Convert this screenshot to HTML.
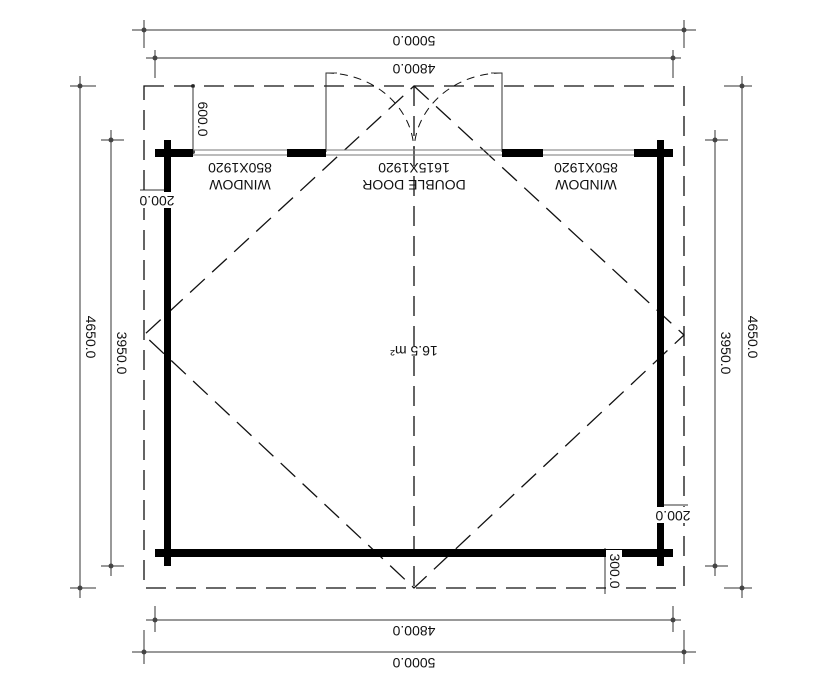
<!DOCTYPE html>
<html><head><style>html,body{margin:0;padding:0;background:#fff}svg{display:block}text{font-family:"Liberation Sans",sans-serif;font-size:14px;fill:#111}</style></head>
<body>
<svg width="831" height="685" viewBox="0 0 831 685" xmlns="http://www.w3.org/2000/svg">
<g stroke="#333" stroke-width="1" fill="none">
<line x1="132" y1="30" x2="696" y2="30"/><line x1="144" y1="20" x2="144" y2="48"/><line x1="684" y1="20" x2="684" y2="48"/>
<line x1="146" y1="58" x2="681" y2="58"/><line x1="155" y1="50" x2="155" y2="78"/><line x1="673" y1="50" x2="673" y2="78"/>
<line x1="146" y1="620" x2="681" y2="620"/><line x1="155" y1="606" x2="155" y2="632"/><line x1="673" y1="606" x2="673" y2="632"/>
<line x1="132" y1="652" x2="696" y2="652"/><line x1="144" y1="630" x2="144" y2="664"/><line x1="684" y1="630" x2="684" y2="664"/>
<line x1="80" y1="76" x2="80" y2="598"/><line x1="70" y1="86" x2="96" y2="86"/><line x1="70" y1="588" x2="96" y2="588"/>
<line x1="111" y1="130" x2="111" y2="576"/><line x1="101" y1="140" x2="124" y2="140"/><line x1="101" y1="566" x2="124" y2="566"/>
<line x1="715" y1="130" x2="715" y2="576"/><line x1="705" y1="140" x2="728" y2="140"/><line x1="705" y1="566" x2="728" y2="566"/>
<line x1="742" y1="76" x2="742" y2="598"/><line x1="724" y1="86" x2="752" y2="86"/><line x1="724" y1="588" x2="752" y2="588"/>
<line x1="193" y1="86" x2="193" y2="152"/>
<line x1="140" y1="190" x2="167" y2="190"/>
<line x1="660" y1="505" x2="688" y2="505"/>
<line x1="605" y1="548" x2="605" y2="594"/>
</g>
<g fill="#444">
<circle cx="144" cy="30" r="2.5"/><circle cx="684" cy="30" r="2.5"/><circle cx="155" cy="58" r="2.5"/><circle cx="673" cy="58" r="2.5"/>
<circle cx="155" cy="620" r="2.5"/><circle cx="673" cy="620" r="2.5"/><circle cx="144" cy="652" r="2.5"/><circle cx="684" cy="652" r="2.5"/>
<circle cx="80" cy="86" r="2.5"/><circle cx="80" cy="588" r="2.5"/><circle cx="111" cy="140" r="2.5"/><circle cx="111" cy="566" r="2.5"/>
<circle cx="715" cy="140" r="2.5"/><circle cx="715" cy="566" r="2.5"/><circle cx="742" cy="86" r="2.5"/><circle cx="742" cy="588" r="2.5"/>
<circle cx="193" cy="86" r="2"/><circle cx="193" cy="152" r="2"/>
</g>
<g stroke="#111" stroke-width="1.3" fill="none" stroke-dasharray="20,10">
<rect x="144" y="86" width="540" height="502"/>
<path d="M414 86 L684 335 L414 588 L144 335 Z"/>
<line x1="414" y1="86" x2="414" y2="588"/>
</g>
<g stroke="#111" stroke-width="1" fill="none" stroke-dasharray="8,6">
<path d="M326 73 A88 79 0 0 1 414 152"/>
<path d="M502 73 A88 79 0 0 0 414 152"/>
</g>
<g stroke="#333" stroke-width="1" fill="none"><polyline points="326,152 326,73 337,73"/><polyline points="502,152 502,73 491,73"/></g>
<g stroke="#777" stroke-width="1"><line x1="193" y1="150" x2="287" y2="150"/><line x1="193" y1="155" x2="287" y2="155"/>
<line x1="543" y1="150" x2="634" y2="150"/><line x1="543" y1="155" x2="634" y2="155"/>
<line x1="326" y1="150" x2="502" y2="150"/><line x1="326" y1="155" x2="502" y2="155"/></g>
<g fill="#000">
<rect x="155" y="149" width="38" height="8"/><rect x="287" y="149" width="39" height="8"/><rect x="502" y="149" width="41" height="8"/><rect x="634" y="149" width="39" height="8"/>
<rect x="155" y="549" width="518" height="8"/>
<rect x="164" y="140" width="7" height="426"/><rect x="657" y="140" width="7" height="426"/>
</g>
<g fill="#fff">
<rect x="138" y="192" width="38" height="16"/>
<rect x="654" y="507" width="38" height="16"/>
<rect x="606" y="550" width="16" height="42"/>
</g>
<g text-anchor="middle">
<text transform="translate(414,36) rotate(180)">5000.0</text>
<text transform="translate(414,64) rotate(180)">4800.0</text>
<text transform="translate(414,626) rotate(180)">4800.0</text>
<text transform="translate(414,658) rotate(180)">5000.0</text>
<text transform="translate(240,163) rotate(180)" font-size="13">850X1920</text>
<text transform="translate(240,180) rotate(180)" font-size="13">WINDOW</text>
<text transform="translate(586,163) rotate(180)" font-size="13">850X1920</text>
<text transform="translate(586,180) rotate(180)" font-size="13">WINDOW</text>
<text transform="translate(414,163) rotate(180)" font-size="13">1615X1920</text>
<text transform="translate(414,180) rotate(180)" font-size="13">DOUBLE DOOR</text>
<text transform="translate(414,346) rotate(180)" font-size="13">16.5 m²</text>
<text transform="translate(157,196) rotate(180)">200.0</text>
<text transform="translate(673,511) rotate(180)">200.0</text>
<text transform="translate(86,337) rotate(90)">4650.0</text>
<text transform="translate(117,353) rotate(90)">3950.0</text>
<text transform="translate(721,353) rotate(90)">3950.0</text>
<text transform="translate(748,337) rotate(90)">4650.0</text>
<text transform="translate(198,119) rotate(90)">600.0</text>
<text transform="translate(610,571) rotate(90)">300.0</text>
</g>
</svg>
</body></html>
